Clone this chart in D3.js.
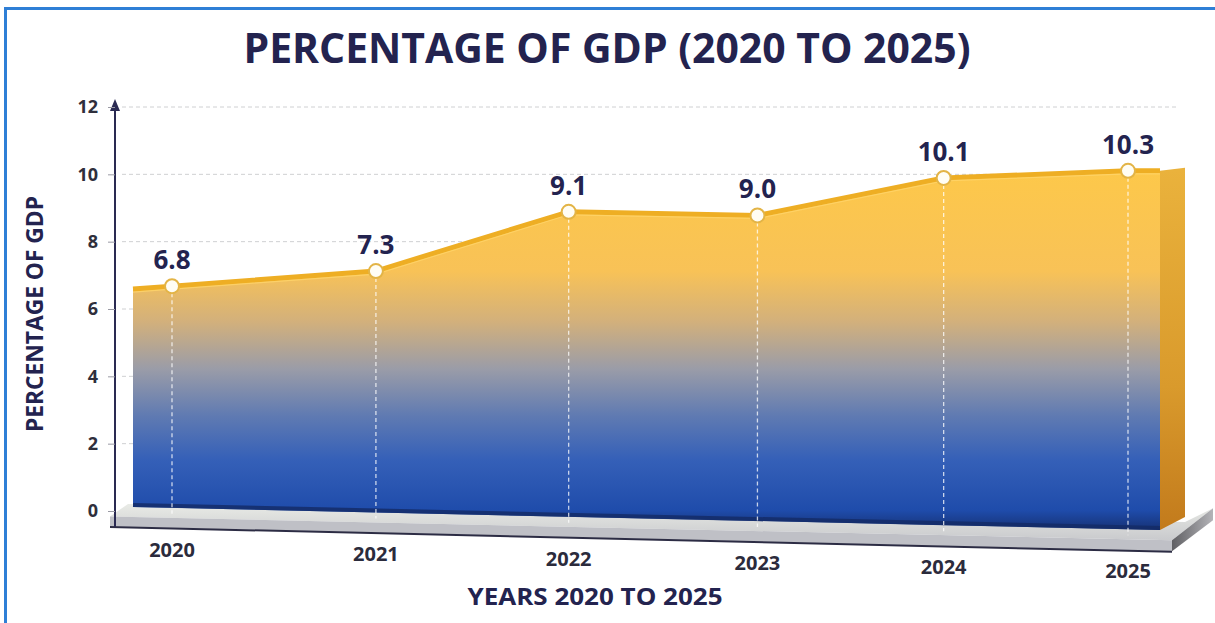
<!DOCTYPE html>
<html>
<head>
<meta charset="utf-8">
<script src="https://cdn.jsdelivr.net/npm/d3@7"></script>
<style>
  html, body { margin: 0; padding: 0; background: #fff; }
  svg { display: block; font-family: "Open Sans", "DejaVu Sans", sans-serif; }
</style>
</head>
<body>
<div class="board"></div>
<script>
// data
var years = ["2020", "2021", "2022", "2023", "2024", "2025"];
var values = [6.8, 7.3, 9.1, 9.0, 10.1, 10.3];
var yTicks = [0, 2, 4, 6, 8, 10, 12];
var titleText = "PERCENTAGE OF GDP (2020 TO 2025)";
var xTitleText = "YEARS 2020 TO 2025";
var yTitleText = "PERCENTAGE OF GDP";

var width = 1215, height = 623;
var navy = "#23234f";

var svg = d3.select(".board").append("svg")
  .attr("width", width)
  .attr("height", height);

var defs = svg.append("defs");

// area fill: gold on top fading to blue at the bottom
var grad = defs.append("linearGradient").attr("id", "areaFill")
  .attr("gradientUnits", "userSpaceOnUse")
  .attr("x1", 0).attr("y1", 170).attr("x2", 0).attr("y2", 532);
[[0, "#fdc84a"], [0.28, "#f8c257"], [0.42, "#d2b07c"], [0.55, "#9a9ca8"],
 [0.68, "#5f7ab2"], [0.8, "#3560b8"], [0.94, "#1f4cab"], [1, "#152f70"]]
  .forEach(function (s) {
    grad.append("stop").attr("offset", s[0]).attr("stop-color", s[1]);
  });

var side = defs.append("linearGradient").attr("id", "sideFill")
  .attr("gradientUnits", "userSpaceOnUse")
  .attr("x1", 0).attr("y1", 170).attr("x2", 0).attr("y2", 532);
side.append("stop").attr("offset", 0).attr("stop-color", "#eab23c");
side.append("stop").attr("offset", 0.6).attr("stop-color", "#d99a2c");
side.append("stop").attr("offset", 1).attr("stop-color", "#c27a1c");

var slabTop = defs.append("linearGradient").attr("id", "slabTop")
  .attr("x1", 0).attr("y1", 0).attr("x2", 0).attr("y2", 1);
slabTop.append("stop").attr("offset", 0).attr("stop-color", "#e9ebe6");
slabTop.append("stop").attr("offset", 1).attr("stop-color", "#c9cacd");

var slabEnd = defs.append("linearGradient").attr("id", "slabEnd")
  .attr("x1", 0).attr("y1", 0).attr("x2", 1).attr("y2", 0);
slabEnd.append("stop").attr("offset", 0).attr("stop-color", "#5f5f63");
slabEnd.append("stop").attr("offset", 1).attr("stop-color", "#b4b4b8");

// outer frame
svg.append("rect")
  .attr("x", 5.5).attr("y", 8.5)
  .attr("width", 1400).attr("height", 800)
  .attr("fill", "none")
  .attr("stroke", "#2f7fd6")
  .attr("stroke-width", 3);

// flat scale used by the y axis
var y = d3.scaleLinear().domain([0, 12]).range([511, 107]);

// x positions of the years (slightly compressed to the right, as in the picture)
var xIdx = d3.scalePow().exponent(0.96).domain([0, years.length - 1]).range([172, 1128]);
var x = function (i) { return xIdx(i); };

// perspective: the floor tilts down to the right and the unit height grows
var base = d3.scaleLinear().domain([133, 1160]).range([507, 530]);
var unit = d3.scaleLinear().domain([172, 1128]).range([32.6, 34.8]);
var py = function (v, px) { return base(px) - v * unit(px); };

var leftX = 133, rightX = 1160;
var depth = [25, -8];

// gridlines (behind the area)
svg.append("g").selectAll("line")
  .data(yTicks.filter(function (d) { return d > 0; }))
  .enter().append("line")
  .attr("x1", 122).attr("x2", 1178)
  .attr("y1", function (d) { return y(d); })
  .attr("y2", function (d) { return y(d); })
  .attr("stroke", "#cfd0d2")
  .attr("stroke-width", 1)
  .attr("stroke-dasharray", "4,3");

// floor slab
var slabL = 110, slabR = 1172;
var fTop = function (px) { return base(px) + 10; };
svg.append("path")
  .attr("d", "M" + slabL + "," + fTop(slabL) +
    "L" + slabR + "," + fTop(slabR) +
    "L1213," + (fTop(slabR) - 32) +
    "L" + (rightX + depth[0]) + "," + (base(rightX) + depth[1]) +
    "L128," + (base(128) - 3) + "Z")
  .attr("fill", "url(#slabTop)");
svg.append("path")
  .attr("d", "M" + slabL + "," + fTop(slabL) +
    "L" + slabR + "," + fTop(slabR) +
    "L" + slabR + "," + (fTop(slabR) + 11) +
    "L" + slabL + "," + (fTop(slabL) + 10) + "Z")
  .attr("fill", "#bfc0c6");
svg.append("path")
  .attr("d", "M" + slabR + "," + fTop(slabR) +
    "L1213," + (fTop(slabR) - 32) +
    "L1213," + (fTop(slabR) - 20) +
    "L" + slabR + "," + (fTop(slabR) + 11) + "Z")
  .attr("fill", "url(#slabEnd)");
svg.append("line")
  .attr("x1", slabL).attr("y1", fTop(slabL) + 10.5)
  .attr("x2", slabR).attr("y2", fTop(slabR) + 11.5)
  .attr("stroke", "#2c2c44").attr("stroke-width", 2);

// area points, extended to the left and right edges of the slab
var pts = values.map(function (v, i) { return { px: x(i), v: v }; });
var leftV = values[0] - (values[1] - values[0]) * (x(0) - leftX) / (x(1) - x(0));
var areaPts = [{ px: leftX, v: leftV }].concat(pts, [{ px: rightX, v: values[values.length - 1] }]);

// right side face
var topR = py(values[values.length - 1], rightX);
svg.append("path")
  .attr("d", "M" + rightX + "," + topR +
    "L" + (rightX + depth[0]) + "," + (topR - 3) +
    "L" + (rightX + depth[0]) + "," + (base(rightX) - 13) +
    "L" + rightX + "," + base(rightX) + "Z")
  .attr("fill", "url(#sideFill)");

var area = d3.area()
  .x(function (d) { return d.px; })
  .y0(function (d) { return base(d.px); })
  .y1(function (d) { return py(d.v, d.px); });

svg.append("path")
  .datum(areaPts)
  .attr("d", area)
  .attr("fill", "url(#areaFill)");

// dark shadow along the bottom of the area
svg.append("line")
  .attr("x1", leftX).attr("y1", base(leftX) - 2)
  .attr("x2", rightX).attr("y2", base(rightX) - 2)
  .attr("stroke", "#142b66").attr("stroke-width", 4).attr("opacity", 0.8);

// vertical dashed guides
svg.append("g").selectAll("line")
  .data(pts).enter().append("line")
  .attr("x1", function (d) { return d.px; })
  .attr("x2", function (d) { return d.px; })
  .attr("y1", function (d) { return py(d.v, d.px) + 7; })
  .attr("y2", function (d) { return base(d.px) + 6; })
  .attr("stroke", "#ffffff")
  .attr("stroke-opacity", 0.75)
  .attr("stroke-width", 1.3)
  .attr("stroke-dasharray", "4,3");

// top edge line
var line = d3.line()
  .x(function (d) { return d.px; })
  .y(function (d) { return py(d.v, d.px); });

svg.append("path")
  .datum(areaPts)
  .attr("d", line)
  .attr("fill", "none")
  .attr("stroke", "#eeae24")
  .attr("stroke-width", 5)
  .attr("stroke-linejoin", "round");
svg.append("path")
  .datum(areaPts)
  .attr("d", line)
  .attr("transform", "translate(0,3)")
  .attr("fill", "none")
  .attr("stroke", "#ffd46a")
  .attr("stroke-width", 1.2)
  .attr("opacity", 0.8);

// markers
svg.append("g").selectAll("circle")
  .data(pts).enter().append("circle")
  .attr("cx", function (d) { return d.px; })
  .attr("cy", function (d) { return py(d.v, d.px); })
  .attr("r", 7)
  .attr("fill", "#fffdf4")
  .attr("stroke", "#e3b446")
  .attr("stroke-width", 2);

// value labels
svg.append("g").selectAll("text")
  .data(pts).enter().append("text")
  .attr("x", function (d) { return d.px; })
  .attr("y", function (d) { return py(d.v, d.px) - 17; })
  .attr("text-anchor", "middle")
  .attr("font-size", 26)
  .attr("font-weight", 700)
  .attr("fill", navy)
  .text(function (d) { return d.v.toFixed(1); });

// y axis
svg.append("line")
  .attr("x1", 115).attr("x2", 115)
  .attr("y1", 108).attr("y2", 527)
  .attr("stroke", "#2a2a52").attr("stroke-width", 2);
svg.append("path")
  .attr("d", "M115,99L110,111L120,111Z")
  .attr("fill", "#2a2a52");

var yAxis = svg.append("g").attr("transform", "translate(115,0)")
  .call(d3.axisLeft(y).tickValues(yTicks).tickSize(7).tickPadding(10));
yAxis.select(".domain").remove();
yAxis.selectAll(".tick line").attr("stroke", "#9a9aa4");
yAxis.selectAll(".tick text")
  .attr("font-family", "'Open Sans', sans-serif")
  .attr("font-size", 18)
  .attr("font-weight", 700)
  .attr("fill", "#2f2f3c");

// x tick labels follow the tilted floor
svg.append("g").selectAll("text")
  .data(years).enter().append("text")
  .attr("x", function (d, i) { return x(i); })
  .attr("y", function (d, i) { return base(x(i)) + 49; })
  .attr("text-anchor", "middle")
  .attr("font-size", 20)
  .attr("font-weight", 700)
  .attr("fill", "#2b2b3c")
  .text(function (d) { return d; });

// titles
svg.append("text")
  .attr("x", 607).attr("y", 63)
  .attr("text-anchor", "middle")
  .attr("font-size", 41)
  .attr("font-weight", 700)
  .attr("fill", navy)
  .attr("textLength", 727)
  .attr("lengthAdjust", "spacingAndGlyphs")
  .text(titleText);

svg.append("text")
  .attr("x", 595).attr("y", 605)
  .attr("text-anchor", "middle")
  .attr("font-size", 24)
  .attr("font-weight", 700)
  .attr("fill", navy)
  .attr("textLength", 255)
  .attr("lengthAdjust", "spacingAndGlyphs")
  .text(xTitleText);

svg.append("text")
  .attr("transform", "translate(43,314) rotate(-90)")
  .attr("text-anchor", "middle")
  .attr("font-size", 23)
  .attr("font-weight", 700)
  .attr("fill", navy)
  .attr("textLength", 236)
  .attr("lengthAdjust", "spacingAndGlyphs")
  .text(yTitleText);
</script>
</body>
</html>
